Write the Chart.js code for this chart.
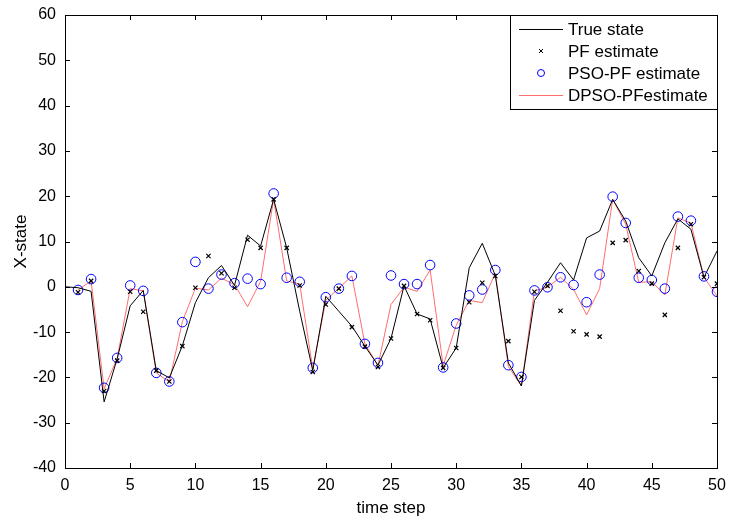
<!DOCTYPE html>
<html>
<head>
<meta charset="utf-8">
<script src="https://cdn.jsdelivr.net/npm/chart.js@4.4.0/dist/chart.umd.min.js"></script>
<style>
  html, body { margin: 0; padding: 0; background: #fff; }
  #wrap { width: 729px; height: 521px; }
</style>
</head>
<body>
<div id="wrap"><canvas id="stateChart" width="729" height="521"></canvas></div>
<script>
// true state starts at step 0, the filter estimates at step 1
const trueState = [0, -0.2, -1.0, -25.4, -15.9, -4.2, -0.8, -18.5, -20.1, -13.0,
    -3.5, 2.0, 4.7, 0.3, 11.4, 9.0, 19.3, 8.6, -5.4, -18.5,
    -2.1, -5.4, -8.7, -13.1, -17.3, -11.4, 0.2, -6.0, -7.1, -17.9,
    -13.5, 4.2, 9.6, 2.5, -16.8, -21.9, -3.0, 1.0, 5.3, 1.5,
    10.8, 12.3, 19.3, 14.5, 6.4, 2.4, 9.7, 15.0, 12.7, 2.1, 7.9];
const pfEstimate = [-1.2, 1.3, -23.0, -16.3, -1.1, -5.5, -18.5, -20.9, -13.1, -0.2,
    6.8, 3.0, -0.2, 10.4, 8.6, 19.3, 8.6, 0.3, -18.8, -3.9,
    -0.4, -8.9, -13.2, -17.7, -11.4, 0.2, -6.0, -7.4, -17.9, -13.5,
    -3.4, 0.9, 2.4, -12.0, -19.9, -1.1, 0.2, -5.3, -9.8, -10.5,
    -11.0, 9.7, 10.3, 3.5, 0.7, -6.2, 8.6, 13.8, 2.1, 0.7];
const psoEstimate = [-0.7, 1.7, -22.3, -15.7, 0.3, -0.9, -19.0, -20.9, -7.8, 5.5,
    -0.4, 2.7, 0.8, 1.8, 0.6, 20.6, 2.0, 1.1, -17.9, -2.3,
    -0.4, 2.4, -12.6, -16.8, 2.5, 0.6, 0.6, 4.8, -17.8, -8.1,
    -1.9, -0.6, 3.7, -17.3, -19.9, -0.8, -0.1, 2.1, 0.4, -3.4,
    2.7, 19.9, 14.1, 2.0, 1.5, -0.4, 15.5, 14.6, 2.3, -1.1];
const dpsoEstimate = [-0.7, 1.3, -22.5, -15.8, -0.4, -0.9, -19.0, -21.0, -7.7, -0.3,
    -0.7, 1.9, 0.5, -4.4, 1.2, 19.4, 1.3, 0.6, -18.1, -3.0,
    -0.3, 2.4, -12.6, -17.4, -3.9, -0.1, -1.0, 3.7, -17.4, -8.5,
    -3.0, -3.5, 3.0, -17.6, -21.9, -0.9, -0.1, 2.1, -0.5, -6.2,
    -0.4, 19.3, 13.8, 1.0, 1.1, -1.8, 15.2, 14.1, 2.1, -2.0];
const seriesNames = ['True state', 'PF estimate', 'PSO-PF estimate', 'DPSO-PFestimate'];

const FONT = 'Liberation Sans, Arial, Helvetica, sans-serif';
const RED = 'rgb(255, 110, 110)';

function toPoints(values, firstStep) {
    return values.map((v, i) => ({ x: i + firstStep, y: v }));
}

// box round the axes, with inward tick marks on all four sides
const axesBox = {
    id: 'axesBox',
    afterDatasetsDraw(chart) {
        const { ctx, chartArea: a, scales } = chart;
        ctx.save();
        ctx.strokeStyle = '#000';
        ctx.lineWidth = 1;
        ctx.beginPath();
        scales.x.ticks.forEach(t => {
            const px = Math.round(scales.x.getPixelForValue(t.value)) + 0.5;
            ctx.moveTo(px, a.bottom); ctx.lineTo(px, a.bottom - 5);
            ctx.moveTo(px, a.top); ctx.lineTo(px, a.top + 5);
        });
        scales.y.ticks.forEach(t => {
            const py = Math.round(scales.y.getPixelForValue(t.value)) + 0.5;
            ctx.moveTo(a.left, py); ctx.lineTo(a.left + 5, py);
            ctx.moveTo(a.right, py); ctx.lineTo(a.right - 5, py);
        });
        ctx.stroke();
        ctx.strokeRect(Math.round(a.left) + 0.5, Math.round(a.top) + 0.5,
            Math.round(a.right - a.left), Math.round(a.bottom - a.top));
        ctx.restore();
    }
};

// MATLAB style legend box in the upper right corner
const boxLegend = {
    id: 'boxLegend',
    afterDraw(chart) {
        const { ctx, chartArea: a } = chart;
        const left = 510, top = Math.round(a.top), right = Math.round(a.right), bottom = 109;
        ctx.save();
        ctx.fillStyle = '#fff';
        ctx.fillRect(left, top, right - left, bottom - top);
        ctx.strokeStyle = '#000';
        ctx.lineWidth = 1;
        ctx.strokeRect(left + 0.5, top + 0.5, right - left, bottom - top);
        const rowY = [29, 51, 73, 95];
        ctx.font = '17px ' + FONT;
        ctx.textBaseline = 'middle';
        seriesNames.forEach((name, i) => {
            const y = rowY[i];
            if (i === 0 || i === 3) {
                ctx.strokeStyle = i === 0 ? '#000' : RED;
                ctx.beginPath();
                ctx.moveTo(519, y + 0.5); ctx.lineTo(563, y + 0.5);
                ctx.stroke();
            } else if (i === 1) {
                ctx.strokeStyle = '#000';
                ctx.beginPath();
                ctx.moveTo(539, y - 2); ctx.lineTo(543, y + 2);
                ctx.moveTo(543, y - 2); ctx.lineTo(539, y + 2);
                ctx.stroke();
            } else {
                ctx.strokeStyle = '#0000ff';
                ctx.beginPath();
                ctx.arc(541, y, 3.5, 0, Math.PI * 2);
                ctx.stroke();
            }
            ctx.fillStyle = '#000';
            ctx.fillText(name, 568, y + 1);
        });
        ctx.restore();
    }
};

const ctx = document.getElementById('stateChart').getContext('2d');
new Chart(ctx, {
    type: 'line',
    data: {
        datasets: [
            {
                label: seriesNames[0],
                data: toPoints(trueState, 0),
                borderColor: '#000',
                borderWidth: 1,
                pointRadius: 0,
                tension: 0
            },
            {
                label: seriesNames[1],
                data: toPoints(pfEstimate, 1),
                showLine: false,
                pointStyle: 'crossRot',
                pointRadius: 3,
                borderColor: '#000',
                pointBorderWidth: 1.2
            },
            {
                label: seriesNames[2],
                data: toPoints(psoEstimate, 1),
                showLine: false,
                pointStyle: 'circle',
                pointRadius: 4.8,
                pointBorderColor: '#0000ff',
                pointBackgroundColor: 'rgba(0,0,0,0)',
                pointBorderWidth: 1
            },
            {
                label: seriesNames[3],
                data: toPoints(dpsoEstimate, 1),
                borderColor: RED,
                borderWidth: 1,
                pointRadius: 0,
                tension: 0
            }
        ]
    },
    options: {
        responsive: false,
        animation: false,
        events: [],
        layout: { padding: { left: 0, top: 15, right: 12, bottom: 0 } },
        plugins: {
            legend: { display: false },
            tooltip: { enabled: false }
        },
        scales: {
            x: {
                type: 'linear',
                min: 0,
                max: 50,
                afterFit: s => { s.height = 53; },
                grid: { display: false },
                border: { display: true, color: '#000' },
                ticks: { stepSize: 5, color: '#000', padding: 0, font: { family: FONT, size: 16 } },
                title: {
                    display: true,
                    text: 'time step',
                    color: '#000',
                    padding: { top: 0, bottom: 2 },
                    font: { family: FONT, size: 17 }
                }
            },
            y: {
                min: -40,
                max: 60,
                afterFit: s => { s.width = 65; },
                grid: { display: false },
                border: { display: true, color: '#000' },
                ticks: { stepSize: 10, color: '#000', padding: 1, font: { family: FONT, size: 16 } },
                title: {
                    display: true,
                    text: 'X-state',
                    color: '#000',
                    padding: { top: 11, bottom: 0 },
                    font: { family: FONT, size: 17 }
                }
            }
        }
    },
    plugins: [axesBox, boxLegend]
});
</script>
</body>
</html>
